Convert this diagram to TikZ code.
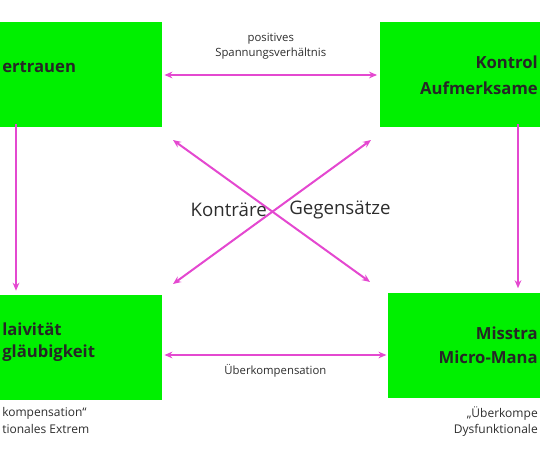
\documentclass[tikz,border=0pt]{standalone}
\usepackage{fontspec}
\setmainfont{Open Sans}
\usepackage{tikz}
\usetikzlibrary{arrows.meta}
\definecolor{boxgreen}{RGB}{0,240,0}
\definecolor{arrowpink}{RGB}{228,72,208}
\definecolor{labelgray}{RGB}{45,45,45}

\begin{document}
\begin{tikzpicture}[
  x=0.75pt, y=-0.75pt,
  box/.style={
    rectangle, draw=none, fill=boxgreen,
    minimum width=202.5pt, minimum height=78.75pt
  },
  boxtext/.style={font=\fontsize{12.5}{15}\selectfont\bfseries, text=black!85, inner sep=0pt},
  arrow/.style={{Stealth[length=6pt,width=5pt]}-{Stealth[length=6pt,width=5pt]}, line width=1.5pt, arrowpink},
  downarrow/.style={-{Stealth[length=6pt,width=5pt]}, line width=1.5pt, arrowpink},
  label/.style={font=\fontsize{8.5}{11}\selectfont, text=labelgray, align=center},
  note/.style={font=\fontsize{9}{12}\selectfont, text=labelgray, inner sep=0pt},
  contra/.style={font=\fontsize{14}{16}\selectfont, text=labelgray, inner sep=0pt}
]
\useasboundingbox (0,0) rectangle (540,460);

% Quadrant boxes
\node[box] (trust)   at (26.5, 74.5)  {};
\node[box] (control) at (515, 74.5)   {};
\node[box] (naive)   at (26.5, 347.5) {};
\node[box] (distrust) at (523, 345)   {};

% Box texts (as far as they show)
\node[boxtext, anchor=west] (trustA) at (2, 67) {ertrauen};
\node[boxtext, anchor=east] (controlA) at (538, 62) {Kontrol};
\node[boxtext, anchor=east] (controlB) at (538, 88) {Aufmerksame};
\node[boxtext, anchor=west] (naiveA) at (2, 329) {laivität};
\node[boxtext, anchor=west] (naiveB) at (2, 353) {gläubigkeit};
\node[boxtext, anchor=east] (distrustA) at (538, 333) {Misstra};
\node[boxtext, anchor=east] (distrustB) at (538, 357) {Micro-Mana};

% Notes below the lower boxes
\node[note, anchor=west] (noteLA) at (2, 413) {kompensation“};
\node[note, anchor=west] (noteLB) at (2, 429) {tionales Extrem};
\node[note, anchor=east] (noteRA) at (538, 414) {„Überkompe};
\node[note, anchor=east] (noteRB) at (538, 430) {Dysfunktionale};

% Horizontal arrows
\draw[arrow] ([xshift=2pt]trust.east |- 0,75) -- ([xshift=-2pt]control.west |- 0,75)
  node[midway, above=8pt, label] {positives\\Spannungsverhältnis};
\draw[arrow] ([xshift=2pt]naive.east |- 0,355) -- ([xshift=-1pt]distrust.west |- 0,355)
  node[midway, below=3pt, label] {Überkompensation};

% Vertical arrows
\draw[downarrow] (trust.south -| 16,0) ++(0,-3) -- ([yshift=3pt]naive.north -| 16,0);
\draw[downarrow] (control.south -| 518,0) ++(0,-3) -- ([yshift=3pt]distrust.north -| 518,0);

% Diagonals
\coordinate (dTL) at (173,140);
\coordinate (dTR) at (371,140);
\coordinate (dBL) at (173,284);
\coordinate (dBR) at (370,282);
\draw[arrow] (dTL) -- (dBR);
\draw[arrow] (dTR) -- (dBL);

\node[contra, anchor=east] (contraA) at (267, 210) {Konträre};
\node[contra, anchor=west] (contraB) at (289, 210) {Gegensätze};

\end{tikzpicture}
\end{document}
